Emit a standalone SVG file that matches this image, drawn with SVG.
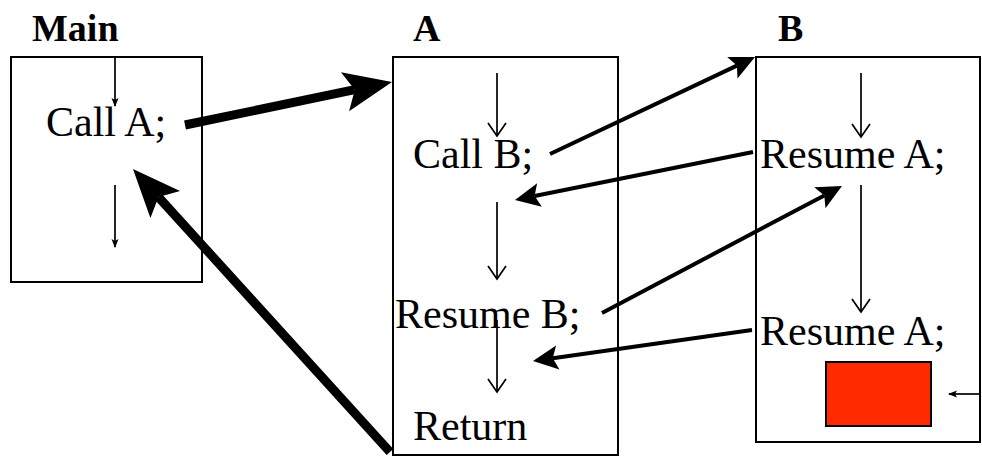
<svg xmlns="http://www.w3.org/2000/svg" width="982" height="457" viewBox="0 0 982 457">
<style>
.box{fill:#fff;stroke:#000;stroke-width:2}
.lbl{font-family:'Liberation Serif',Tinos,'Times New Roman','DejaVu Serif',serif;font-size:42px;fill:#000}
.hdr{font-family:'Liberation Serif',Tinos,'Times New Roman','DejaVu Serif',serif;font-size:38px;font-weight:bold;fill:#000}
.thin{stroke:#000;stroke-width:1.7;fill:none}
.med{stroke:#000;stroke-width:4;fill:none}
.thick{stroke:#000;stroke-width:9;fill:none}
</style>
<defs>
<marker id="mThick" markerUnits="userSpaceOnUse" viewBox="-10 -20 48 40" markerWidth="48" markerHeight="40" refX="0" refY="0" orient="auto" overflow="visible">
<path d="M38,0 L-10,-20 L0,0 L-10,20 Z" fill="#000"/>
</marker>
<marker id="mMed" markerUnits="userSpaceOnUse" viewBox="-5 -12 25 24" markerWidth="25" markerHeight="24" refX="0" refY="0" orient="auto" overflow="visible">
<path d="M20,0 L-5,-12 L0,0 L-5,12 Z" fill="#000"/>
</marker>
<marker id="mOpen" markerUnits="userSpaceOnUse" viewBox="-14 -10 16 20" markerWidth="16" markerHeight="20" refX="0" refY="0" orient="auto" overflow="visible">
<path d="M-13,-9 L0,0 L-13,9" fill="none" stroke="#000" stroke-width="1.7"/>
</marker>
<marker id="mSmall" markerUnits="userSpaceOnUse" viewBox="-8 -4 9 8" markerWidth="9" markerHeight="8" refX="0" refY="0" orient="auto" overflow="visible">
<path d="M1,0 L-8,-3.5 L-6,0 L-8,3.5 Z" fill="#000"/>
</marker>
</defs>

<g id="main">
<rect class="box" x="11" y="57" width="191" height="225"/>
<text class="hdr" font-family="Liberation Serif, serif" x="32" y="41">Main</text>
<text class="lbl" font-family="Liberation Serif, serif" x="46" y="136">Call A;</text>
</g>

<g id="A">
<rect class="box" x="393" y="57" width="225" height="398"/>
<text class="hdr" font-family="Liberation Serif, serif" x="413" y="41">A</text>
<text class="lbl" font-family="Liberation Serif, serif" x="413" y="168">Call B;</text>
<text class="lbl" font-family="Liberation Serif, serif" x="395" y="328">Resume B;</text>
<text class="lbl" font-family="Liberation Serif, serif" x="413" y="440">Return</text>
</g>

<g id="B">
<rect class="box" x="756" y="57" width="224" height="385"/>
<text class="hdr" font-family="Liberation Serif, serif" x="778" y="41">B</text>
<text class="lbl" font-family="Liberation Serif, serif" x="760" y="168">Resume A;</text>
<text class="lbl" font-family="Liberation Serif, serif" x="760" y="345">Resume A;</text>
<rect id="red" x="826" y="362" width="105" height="64" fill="#ff2a00" stroke="#000" stroke-width="2"/>
</g>

<g id="connectors">
<line class="thin" x1="115" y1="57" x2="115" y2="106" marker-end="url(#mSmall)"/>
<line class="thin" x1="115" y1="185" x2="115" y2="247" marker-end="url(#mSmall)"/>
<line class="thin" x1="497" y1="73" x2="497" y2="136" marker-end="url(#mOpen)"/>
<line class="thin" x1="497" y1="202" x2="497" y2="279" marker-end="url(#mOpen)"/>
<line class="thin" x1="497" y1="320" x2="497" y2="392" marker-end="url(#mOpen)"/>
<line class="thin" x1="861" y1="73" x2="861" y2="137" marker-end="url(#mOpen)"/>
<line class="thin" x1="861" y1="185" x2="861" y2="312" marker-end="url(#mOpen)"/>
<line class="thin" x1="980" y1="394" x2="949" y2="394" marker-end="url(#mSmall)"/>
<line class="thick" x1="185" y1="125" x2="354.8" y2="89.7" marker-end="url(#mThick)"/>
<line class="thick" x1="390" y1="452" x2="158.5" y2="197.1" marker-end="url(#mThick)"/>
<line class="med" x1="550" y1="154" x2="736.9" y2="65.6" marker-end="url(#mMed)"/>
<line class="med" x1="753" y1="152" x2="534.6" y2="196" marker-end="url(#mMed)"/>
<line class="med" x1="602" y1="313" x2="824.3" y2="195.4" marker-end="url(#mMed)"/>
<line class="med" x1="752" y1="330" x2="552.8" y2="358.2" marker-end="url(#mMed)"/>
</g>
</svg>
